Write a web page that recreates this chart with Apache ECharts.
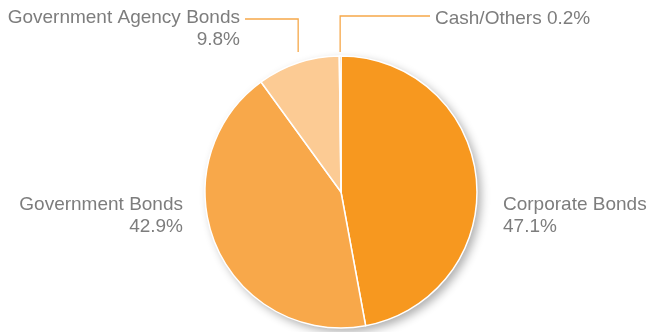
<!DOCTYPE html>
<html>
<head>
<meta charset="utf-8">
<script src="https://cdn.jsdelivr.net/npm/echarts@6/dist/echarts.min.js"></script>
<style>
html,body{margin:0;padding:0;background:#fff;}
#chart{width:648px;height:332px;}
</style>
</head>
<body>
<div id="chart"></div>
<script>
const categories = ['Corporate Bonds', 'Government Bonds', 'Government Agency Bonds', 'Cash/Others'];
const values = [47.1, 42.9, 9.8, 0.2];
const sliceColors = ['#F7981F', '#F8A84A', '#FCCB94', '#F39A2E'];

const CX = 341, CY = 192, R = 136;
const total = values.reduce((a, b) => a + b, 0);
const cum = [];
values.reduce((acc, v, i) => { cum[i] = acc; return acc + v; }, 0);
function edgeX(i) {
  const a = (cum[i] + values[i] / 2) / total * Math.PI * 2;
  return CX + R * Math.sin(a);
}

const chart = echarts.init(document.getElementById('chart'), null, {renderer: 'canvas'});
const textStyle = {color: '#7d7d7d', fontFamily: 'Liberation Sans', fontSize: 19, lineHeight: 22, overflow: 'none'};

chart.setOption({
  animation: false,
  backgroundColor: '#fff',
  series: [
    {
      type: 'pie',
      silent: true,
      center: [CX, CY],
      radius: R,
      z: 1,
      label: {show: false},
      labelLine: {show: false},
      itemStyle: {
        color: '#fff',
        shadowBlur: 10,
        shadowOffsetX: 4,
        shadowOffsetY: 4,
        shadowColor: 'rgba(0,0,0,0.32)'
      },
      data: [{value: total, name: ''}]
    },
    {
      type: 'pie',
      center: [CX, CY],
      radius: R,
      startAngle: 90,
      clockwise: true,
      z: 2,
      bleedMargin: 0,
      itemStyle: {borderColor: '#fff', borderWidth: 1.5},
      label: Object.assign({show: true}, textStyle),
      labelLine: {show: true, lineStyle: {color: '#F6A849', width: 1.3}},
      labelLayout: function (p) {
        const i = p.dataIndex;
        if (i === 0) return {x: 503, y: 216, align: 'left', verticalAlign: 'middle'};
        if (i === 1) return {x: 183, y: 216, align: 'right', verticalAlign: 'middle'};
        const ex = edgeX(i);
        if (i === 2) return {x: 240, y: 29, align: 'right', verticalAlign: 'middle',
          labelLinePoints: [[ex, 52], [ex, 19], [245, 19]]};
        return {x: 435, y: 19, align: 'left', verticalAlign: 'middle',
          labelLinePoints: [[ex, 52], [ex, 16], [430, 16]]};
      },
      data: categories.map((c, i) => ({
        name: c,
        value: values[i],
        itemStyle: {color: sliceColors[i]},
        label: {formatter: i === 3 ? '{b} {c}%' : '{b}\n{c}%', overflow: 'none', width: 300},
        labelLine: {show: i >= 2}
      }))
    }
  ]
});
</script>
</body>
</html>
